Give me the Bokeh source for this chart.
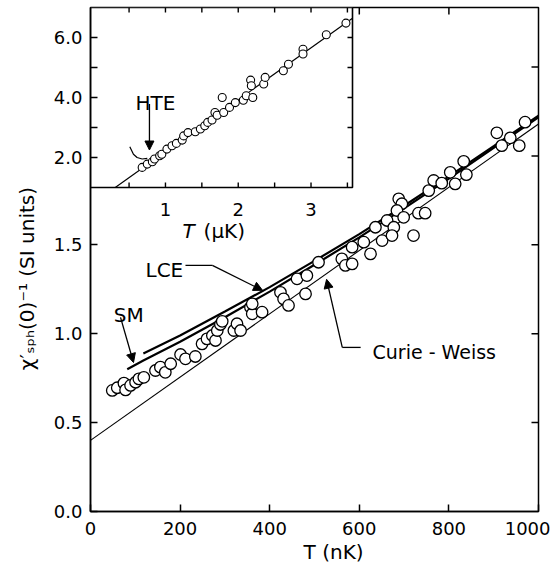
from bokeh.plotting import figure
from bokeh.models import Range1d, FixedTicker, Label, Arrow, NormalHead
from bokeh.embed import file_html
from bokeh.resources import INLINE

FONT = "DejaVu Sans"

# ---------------- main panel data ----------------
T_nK = [48.6, 59.7, 74.6, 78.3, 89.4, 100.6, 108, 119, 145, 156, 167, 179, 201, 212, 234,
        249, 260, 272, 279, 283, 290, 294, 320, 327, 335, 357, 361, 361, 383, 424, 431,
        442, 461, 483, 480, 509, 561, 569, 584, 584, 610, 625, 636, 651, 662, 677, 673,
        688, 695, 684, 699, 721, 732, 747, 755, 766, 784, 803, 814, 833, 839, 907, 918,
        937, 957, 970]
chi_inv = [0.681, 0.696, 0.722, 0.684, 0.709, 0.727, 0.746, 0.755, 0.793, 0.812, 0.783,
           0.831, 0.883, 0.859, 0.872, 0.943, 0.971, 0.990, 0.962, 1.018, 1.052, 1.070,
           1.018, 1.056, 1.018, 1.149, 1.112, 1.168, 1.121, 1.233, 1.196, 1.159, 1.309,
           1.327, 1.224, 1.402, 1.421, 1.384, 1.393, 1.487, 1.515, 1.449, 1.599, 1.524,
           1.637, 1.599, 1.552, 1.759, 1.731, 1.693, 1.655, 1.552, 1.678, 1.678, 1.805,
           1.862, 1.847, 1.908, 1.843, 1.970, 1.895, 2.130, 2.058, 2.102, 2.058, 2.190]

cw_T = [0, 1000]
cw_Y = [0.40, 2.18]
lce_T = [118, 200, 300, 400, 500, 600, 700, 800, 900, 1000]
lce_Y = [0.889, 0.990, 1.125, 1.262, 1.410, 1.560, 1.720, 1.885, 2.055, 2.227]
sm_T = [82, 118, 200, 300, 400, 500, 600, 700, 800, 900, 1000]
sm_Y = [0.800, 0.849, 0.955, 1.093, 1.237, 1.388, 1.542, 1.705, 1.872, 2.045, 2.218]

main_x_ticks = [0, 200, 400, 600, 800, 1000]
main_y_ticks = [0.0, 0.5, 1.0, 1.5]
main_y_labels = ["0.0", "0.5", "1.0", "1.5"]
top_ticks = [600, 800]
right_ticks = [0.5, 1.0, 1.5, 2.0, 2.5]

# ---------------- inset data ----------------
inset_T = [0.68, 0.75, 0.82, 0.85, 0.92, 0.95, 1.02, 1.09, 1.15, 1.23, 1.25, 1.31, 1.41,
           1.48, 1.54, 1.58, 1.64, 1.68, 1.71, 1.78, 1.80, 1.88, 1.96, 2.07, 2.11, 2.17,
           2.18, 2.20, 2.35, 2.37, 2.62, 2.69, 2.89, 2.89, 3.21, 3.48]
inset_Y = [1.67, 1.78, 1.86, 1.95, 2.06, 2.11, 2.28, 2.39, 2.47, 2.58, 2.72, 2.83, 2.86,
           2.95, 3.06, 3.17, 3.25, 3.50, 3.41, 4.00, 3.50, 3.67, 3.83, 3.91, 4.06, 4.58,
           4.39, 4.00, 4.45, 4.67, 4.89, 5.11, 5.61, 5.45, 6.09, 6.48]
inset_fit_T = [0.31, 3.57]
inset_fit_Y = [1.0, 6.64]
hte_T = [0.51, 0.56, 0.61, 0.68, 0.75]
hte_Y = [2.36, 2.11, 2.00, 1.95, 1.97]

inset_x_ticks = [0.5, 1.0, 1.5, 2.0, 2.5, 3.0, 3.5]
inset_x_labels = ["1", "2", "3"]
inset_x_label_pos = [1, 2, 3]
inset_y_major = [2.0, 4.0, 6.0]
inset_y_labels = ["2.0", "4.0", "6.0"]
inset_y_minor = [3.0, 5.0]
inset_y_ticks = [2.0, 3.0, 4.0, 5.0, 6.0]

# ---------------- layout ----------------
FW, FH = 448, 504            # frame size in px
ix0, ix1 = -0.03, 3.57       # inset limits
iy0, iy1 = 1.0, 7.0
frac_w = 262 / FW            # inset share of main frame
frac_h = 180 / FH

X0, X1 = 0, 1000
Y0, Y1 = 0, 2.835

NB = "\u00a0"
p = figure(width=550, height=566, x_range=Range1d(X0, X1), y_range=Range1d(Y0, Y1),
           output_backend="svg", toolbar_location=None,
           min_border_left=90, min_border_right=12, min_border_top=7, min_border_bottom=55)
p.grid.visible = False
p.outline_line_color = "black"
p.outline_line_width = 1.5
p.background_fill_color = "white"
p.border_fill_color = "white"

ix_end = ix0 + (ix1 - ix0) / frac_w
iy_start = iy1 - (iy1 - iy0) / frac_h
p.extra_x_ranges = {"ix": Range1d(ix0, ix_end)}
p.extra_y_ranges = {"iy": Range1d(iy_start, iy1)}


def inset_to_main_y(v):
    return Y0 + (v - iy_start) / (iy1 - iy_start) * (Y1 - Y0)


def style_axis(ax, standoff):
    ax.axis_line_color = "black"
    ax.axis_line_width = 1.5
    ax.major_tick_line_color = "black"
    ax.major_tick_line_width = 1.5
    ax.major_tick_in = 7
    ax.major_tick_out = 0
    ax.minor_tick_line_color = "black"
    ax.minor_tick_line_width = 1.5
    ax.minor_tick_in = 0
    ax.minor_tick_out = 0
    ax.major_label_text_font = FONT
    ax.major_label_text_font_size = "18px"
    ax.major_label_text_color = "black"
    ax.major_label_standoff = standoff
    ax.axis_label_text_font = FONT
    ax.axis_label_text_font_size = "20px"
    ax.axis_label_text_font_style = "normal"
    ax.axis_label_text_color = "black"


xa = p.xaxis[0]
xa.ticker = FixedTicker(ticks=main_x_ticks, minor_ticks=[])
style_axis(xa, 10)
xa.axis_label = NB * 6 + "T (nK)"
xa.axis_label_standoff = 2

ya = p.yaxis[0]
left_major = main_y_ticks + [inset_to_main_y(v) for v in inset_y_major]
left_minor = [inset_to_main_y(v) for v in inset_y_minor]
ya.ticker = FixedTicker(ticks=left_major, minor_ticks=left_minor)
style_axis(ya, 8)
ya.minor_tick_in = 7
overrides = {}
for t, s in zip(main_y_ticks, main_y_labels):
    overrides[t] = s
for v, s in zip(inset_y_major, inset_y_labels):
    overrides[inset_to_main_y(v)] = s
ya.major_label_overrides = overrides
ya.axis_label = "\u03c7\u2032\u209b\u209a\u2095(0)\u207b\u00b9 (SI units)" + NB * 6
ya.axis_label_standoff = 12

# top / right frame ticks
tick_main_y = 7 * (Y1 - Y0) / FH
tick_main_x = 7 * (X1 - X0) / FW
p.segment(x0=top_ticks, y0=[Y1] * len(top_ticks), x1=top_ticks,
          y1=[Y1 - tick_main_y] * len(top_ticks), line_color="black", line_width=1.5)
p.segment(x0=[X1] * len(right_ticks), y0=right_ticks, x1=[X1 - tick_main_x] * len(right_ticks),
          y1=right_ticks, line_color="black", line_width=1.5)

# ---------------- main glyphs ----------------
p.line(cw_T, cw_Y, line_color="black", line_width=1.1)
p.line(lce_T, lce_Y, line_color="black", line_width=2.2)
p.line(sm_T, sm_Y, line_color="black", line_width=2.2)
p.scatter(T_nK, chi_inv, marker="circle", size=11.5, fill_color="white",
          line_color="black", line_width=1.3)

# ---------------- inset ----------------
IR = dict(x_range_name="ix", y_range_name="iy")
p.quad(left=ix0, right=ix1, bottom=iy0, top=iy1, fill_color="white",
       line_color="black", line_width=1.6, **IR)
tick_px = 5
dx_tick = tick_px * (ix_end - ix0) / FW
dy_tick = tick_px * (iy1 - iy_start) / FH
p.segment(x0=inset_x_ticks, y0=[iy0] * len(inset_x_ticks), x1=inset_x_ticks,
          y1=[iy0 + dy_tick] * len(inset_x_ticks), line_color="black", line_width=1.4, **IR)
p.segment(x0=inset_x_ticks, y0=[iy1] * len(inset_x_ticks), x1=inset_x_ticks,
          y1=[iy1 - dy_tick] * len(inset_x_ticks), line_color="black", line_width=1.4, **IR)
p.segment(x0=[ix1] * len(inset_y_ticks), y0=inset_y_ticks, x1=[ix1 - dx_tick] * len(inset_y_ticks),
          y1=inset_y_ticks, line_color="black", line_width=1.4, **IR)
p.line(inset_fit_T, inset_fit_Y, line_color="black", line_width=1.2, **IR)
p.line(hte_T, hte_Y, line_color="black", line_width=1.2, **IR)
p.scatter(inset_T, inset_Y, marker="circle", size=8, fill_color="white",
          line_color="black", line_width=1.1, **IR)

TXT = dict(text_font=FONT, text_color="black", text_baseline="alphabetic")
for v, s in zip(inset_x_label_pos, inset_x_labels):
    p.add_layout(Label(x=v, y=iy0, y_offset=-22, text=s, text_align="center",
                       text_font_size="18px", **TXT, **IR))
p.add_layout(Label(x=1.234, y=iy0, y_offset=-43, text="T", text_font_style="italic",
                   text_font_size="20px", text_align="left", **TXT, **IR))
p.add_layout(Label(x=1.524, y=iy0, y_offset=-43, text="(\u00b5K)",
                   text_font_size="20px", text_align="left", **TXT, **IR))
p.add_layout(Label(x=0.587, y=3.83, text="HTE", text_font_size="20px",
                   text_align="left", **TXT, **IR))
p.add_layout(Arrow(x_start=0.78, y_start=3.78, x_end=0.78, y_end=2.25, line_width=1.3,
                   end=NormalHead(size=9, fill_color="black", line_color="black"), **IR))

# ---------------- main annotations ----------------
p.add_layout(Label(x=52, y=1.103, text="SM", text_font_size="20px",
                   text_align="left", **TXT))
p.add_layout(Arrow(x_start=67, y_start=1.092, x_end=96, y_end=0.838, line_width=1.3,
                   end=NormalHead(size=9, fill_color="black", line_color="black")))
p.add_layout(Label(x=122.8, y=1.359, text="LCE", text_font_size="20px",
                   text_align="left", **TXT))
p.segment(x0=[212], y0=[1.384], x1=[272], y1=[1.384], line_color="black", line_width=1.3)
p.add_layout(Arrow(x_start=272, y_start=1.384, x_end=384, y_end=1.244, line_width=1.3,
                   end=NormalHead(size=9, fill_color="black", line_color="black")))
p.add_layout(Label(x=629.5, y=0.895, text="Curie - Weiss",
                   text_font_size="19px", text_align="left", **TXT))
p.segment(x0=[603], y0=[0.923], x1=[562], y1=[0.923], line_color="black", line_width=1.3)
p.add_layout(Arrow(x_start=562, y_start=0.923, x_end=527, y_end=1.306, line_width=1.3,
                   end=NormalHead(size=9, fill_color="black", line_color="black")))

open("out.html", "w").write(file_html(p, INLINE))
